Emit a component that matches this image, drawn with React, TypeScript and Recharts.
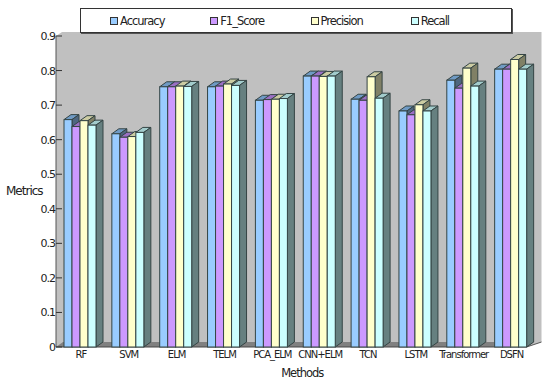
import React from "react";
import { BarChart, Bar, XAxis, YAxis, ReferenceArea, Legend, Label } from "recharts";

const categories = ["RF", "SVM", "ELM", "TELM", "PCA_ELM", "CNN+ELM", "TCN", "LSTM", "Transformer", "DSFN"];
const accuracy = [0.658, 0.617, 0.753, 0.753, 0.714, 0.784, 0.717, 0.683, 0.772, 0.804];
const f1Score = [0.638, 0.607, 0.753, 0.755, 0.716, 0.784, 0.714, 0.672, 0.749, 0.804];
const precision = [0.655, 0.609, 0.755, 0.761, 0.717, 0.783, 0.782, 0.701, 0.807, 0.832];
const recall = [0.642, 0.621, 0.754, 0.757, 0.719, 0.784, 0.72, 0.683, 0.755, 0.804];
const yTicks = [0, 0.1, 0.2, 0.3, 0.4, 0.5, 0.6, 0.7, 0.8, 0.9];

const seriesList = [
  { key: "Accuracy", values: accuracy, face: "#99ccff", top: "#6f9ac4", side: "#4d6680" },
  { key: "F1_Score", values: f1Score, face: "#cc99ff", top: "#9a70c4", side: "#664d80" },
  { key: "Precision", values: precision, face: "#ffffcc", top: "#cccca3", side: "#808066" },
  { key: "Recall", values: recall, face: "#ccffff", top: "#a3cccc", side: "#668080" },
];

const rows = categories.map((name, i) => {
  const row: Record<string, string | number> = { name };
  seriesList.forEach((s) => { row[s.key] = s.values[i]; });
  return row;
});

const FONT = "'DejaVu Sans', sans-serif";
const INK = "#344444";
const DX = 7;
const DY = 5;

const Bar3D = (p: any) => {
  const { x, y, width: w, height: h, face, top, side } = p;
  return (
    <g stroke={INK} strokeWidth={1}>
      <polygon points={`${x},${y} ${x + DX},${y - DY} ${x + w + DX},${y - DY} ${x + w},${y}`} fill={top} />
      <polygon points={`${x + w},${y} ${x + w + DX},${y - DY} ${x + w + DX},${y + h - DY} ${x + w},${y + h}`} fill={side} />
      <rect x={x} y={y} width={w} height={h} fill={face} />
    </g>
  );
};

const Wall = (p: any) => {
  const { x, y, width: w, height: h } = p;
  const b = y + h;
  return (
    <g>
      <polygon points={`${x},${y} ${x + 6},${y - 4} ${x + w + 7},${y - 4} ${x + w + 7},${b - 5} ${x + w - 8},${b} ${x},${b}`} fill="#c0c0c0" />
      <polygon points={`${x},${b} ${x + 7},${b - 5} ${x + w},${b - 5} ${x + w - 8},${b}`} fill="#808080" />
      <line x1={x} y1={y} x2={x} y2={b} stroke="#555" strokeWidth={1} />
      <line x1={x} y1={b} x2={x + w - 8} y2={b} stroke="#444" strokeWidth={1} />
      <line x1={x + w - 8} y1={b} x2={x + w + 7} y2={b - 5} stroke="#555" strokeWidth={1} />
    </g>
  );
};

const YTick = (p: any) => {
  const { x, y, payload } = p;
  return (
    <g>
      <line x1={x} y1={y} x2={x + 6} y2={y} stroke="#333" strokeWidth={1} />
      <text x={x - 1} y={y + 4} textAnchor="end" fontSize={11} fontFamily={FONT} fill="#222" letterSpacing={-1}>
        {payload.value}
      </text>
    </g>
  );
};

const LegendBox = (p: any) => (
  <div style={{ boxSizing: "border-box", width: 432, height: 25, paddingLeft: 29, display: "flex", alignItems: "center", background: "#fff", border: "1px solid #333", boxShadow: "1px 1px 0 #555", fontFamily: FONT, fontSize: 11.5, color: "#222", letterSpacing: -1 }}>
    {p.payload.map((e: any) => (
      <div key={e.value} style={{ width: 112, display: "flex", alignItems: "center" }}>
        <span style={{ width: 6, height: 6, marginRight: 2, border: "1px solid #333", background: e.color, display: "inline-block" }} />
        {e.value}
      </div>
    ))}
  </div>
);

export default function App() {
  return (
    <div style={{ position: "absolute", left: 0, top: 0 }}>
      <BarChart width={550} height={382} data={rows} barGap={0} barSize={8} margin={{ top: 11, right: 15.5, bottom: 0, left: 0 }}>
        <ReferenceArea y1={0} y2={0.9} shape={<Wall />} stroke="none" fill="none" />
        <XAxis dataKey="name" axisLine={false} tickLine={false} interval={0} height={35} tickSize={0} tickMargin={4}
          tick={{ fontSize: 10, fontFamily: FONT, fill: "#222", letterSpacing: -1, dx: 1 }}>
          <Label position="insideBottom" value="Methods" fontSize={11.5} fontFamily={FONT} fill="#222" offset={5} dx={7} letterSpacing={-1} />
        </XAxis>
        <YAxis domain={[0, 0.9]} ticks={yTicks} width={56} axisLine={false} tickLine={false} tickSize={0} tickMargin={0} tick={<YTick />}>
          <Label position="insideLeft" value="Metrics" fontSize={12} fontFamily={FONT} fill="#222" offset={6} dy={-1} letterSpacing={-1} />
        </YAxis>
        <Legend content={<LegendBox />} verticalAlign="top" wrapperStyle={{ left: 80, top: 8, width: 432, height: 25 }} />
        {seriesList.map((s) => (
          <Bar key={s.key} dataKey={s.key} fill={s.face} isAnimationActive={false}
            shape={(props: any) => <Bar3D {...props} face={s.face} top={s.top} side={s.side} />} />
        ))}
      </BarChart>
    </div>
  );
}
